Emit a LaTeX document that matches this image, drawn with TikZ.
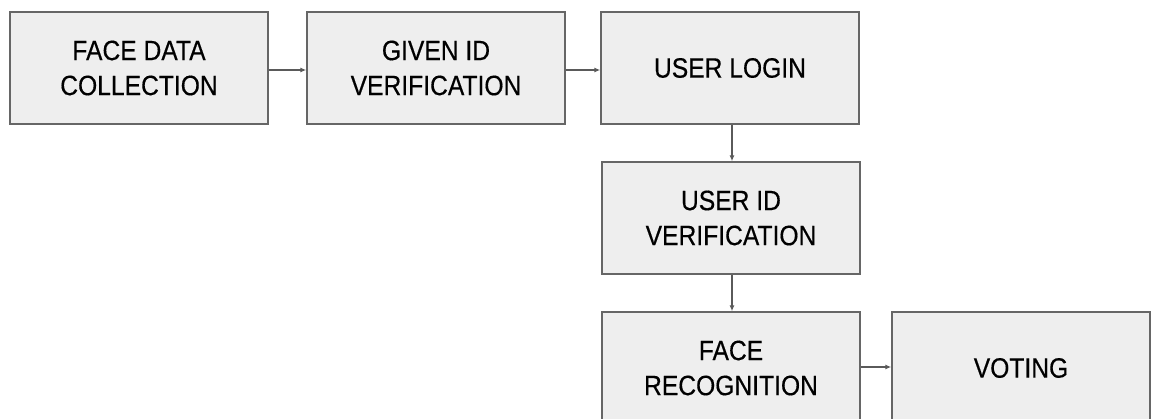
\documentclass[tikz,border=0pt]{standalone}
\usepackage{fontspec}
\setmainfont{Liberation Sans}[FakeStretch=0.88,FakeBold=0.4]
\usetikzlibrary{arrows.meta}
\definecolor{boxfill}{HTML}{EEEEEE}
\definecolor{boxline}{HTML}{666666}
\definecolor{arrline}{HTML}{5A5A5A}
\begin{document}
\begin{tikzpicture}[x=1pt,y=-1pt,
  stepbox/.style={draw=boxline,line width=1.4pt,fill=boxfill,minimum width=258pt,minimum height=112pt,
    align=center,inner sep=0pt,font=\fontsize{28}{35}\selectfont,text=black},
  flow/.style={draw=arrline,line width=1.2pt,-{Latex[length=6pt,width=5pt]}}]
\useasboundingbox (0,0) rectangle (1155,419);
\clip (0,0) rectangle (1155,419);
\node[stepbox] (b1) at (139,68) {FACE DATA\\COLLECTION};
\node[stepbox] (b2) at (436,68) {GIVEN ID\\VERIFICATION};
\node[stepbox] (b3) at (730,68) {USER LOGIN};
\node[stepbox] (b4) at (731,218) {USER ID\\VERIFICATION};
\node[stepbox] (b5) at (731,368) {FACE\\RECOGNITION};
\node[stepbox] (b6) at (1021,368) {VOTING};
\draw[flow] (b1.east |- 0,70) -- (b2.west |- 0,70);
\draw[flow] (b2.east |- 0,70) -- (b3.west |- 0,70);
\draw[flow] (b3.south -| 732,0) -- (b4.north -| 732,0);
\draw[flow] (b4.south -| 732,0) -- (b5.north -| 732,0);
\draw[flow] (b5.east |- 0,367) -- (b6.west |- 0,367);
\end{tikzpicture}
\end{document}
